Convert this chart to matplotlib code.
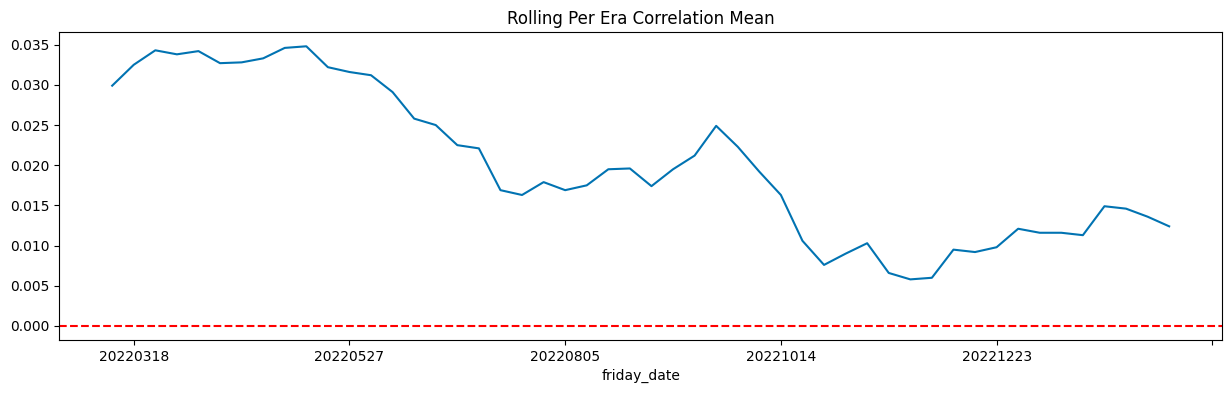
import matplotlib
matplotlib.use("Agg")
import matplotlib.pyplot as plt

friday_dates = [
    "20220311", "20220318", "20220325", "20220401", "20220408", "20220415",
    "20220422", "20220429", "20220506", "20220513", "20220520", "20220527",
    "20220603", "20220610", "20220617", "20220624", "20220701", "20220708",
    "20220715", "20220722", "20220729", "20220805", "20220812", "20220819",
    "20220826", "20220902", "20220909", "20220916", "20220923", "20220930",
    "20221007", "20221014", "20221021", "20221028", "20221104", "20221111",
    "20221118", "20221125", "20221202", "20221209", "20221216", "20221223",
    "20221230", "20230106", "20230113", "20230120", "20230127", "20230203",
    "20230210", "20230217",
]
corr_mean = [
    0.0299, 0.0325, 0.0343, 0.0338, 0.0342, 0.0327, 0.0328, 0.0333, 0.0346, 0.0348,
    0.0322, 0.0316, 0.0312, 0.0291, 0.0258, 0.0250, 0.0225, 0.0221, 0.0169, 0.0163,
    0.0179, 0.0169, 0.0175, 0.0195, 0.0196, 0.0174, 0.0195, 0.0212, 0.0249, 0.0223,
    0.0192, 0.0163, 0.0106, 0.0076, 0.0090, 0.0103, 0.0066, 0.0058, 0.0060, 0.0095,
    0.0092, 0.0098, 0.0121, 0.0116, 0.0116, 0.0113, 0.0149, 0.0146, 0.0136, 0.0124,
]

fig = plt.figure(figsize=(12.31, 3.93), dpi=100)
ax = fig.add_axes([0.0482, 0.1349, 0.9445, 0.7829])

xs = list(range(len(friday_dates)))
ax.plot(xs, corr_mean, color="#0173b2", linewidth=1.5)
ax.axhline(0, color="red", linestyle="--", linewidth=1.5)

# pandas-style categorical ticks, every 10th era starting at index 1
tick_pos = list(range(1, len(friday_dates) + 2, 10))
ax.set_xticks(tick_pos)
ax.set_xticklabels([friday_dates[i] if i < len(friday_dates) else "" for i in tick_pos])
ax.set_xlim(-0.05 * (len(xs) - 1), (len(xs) - 1) * 1.05)

ax.set_title("Rolling Per Era Correlation Mean")
ax.set_xlabel("friday_date")

fig.savefig("out.png", dpi=100)
